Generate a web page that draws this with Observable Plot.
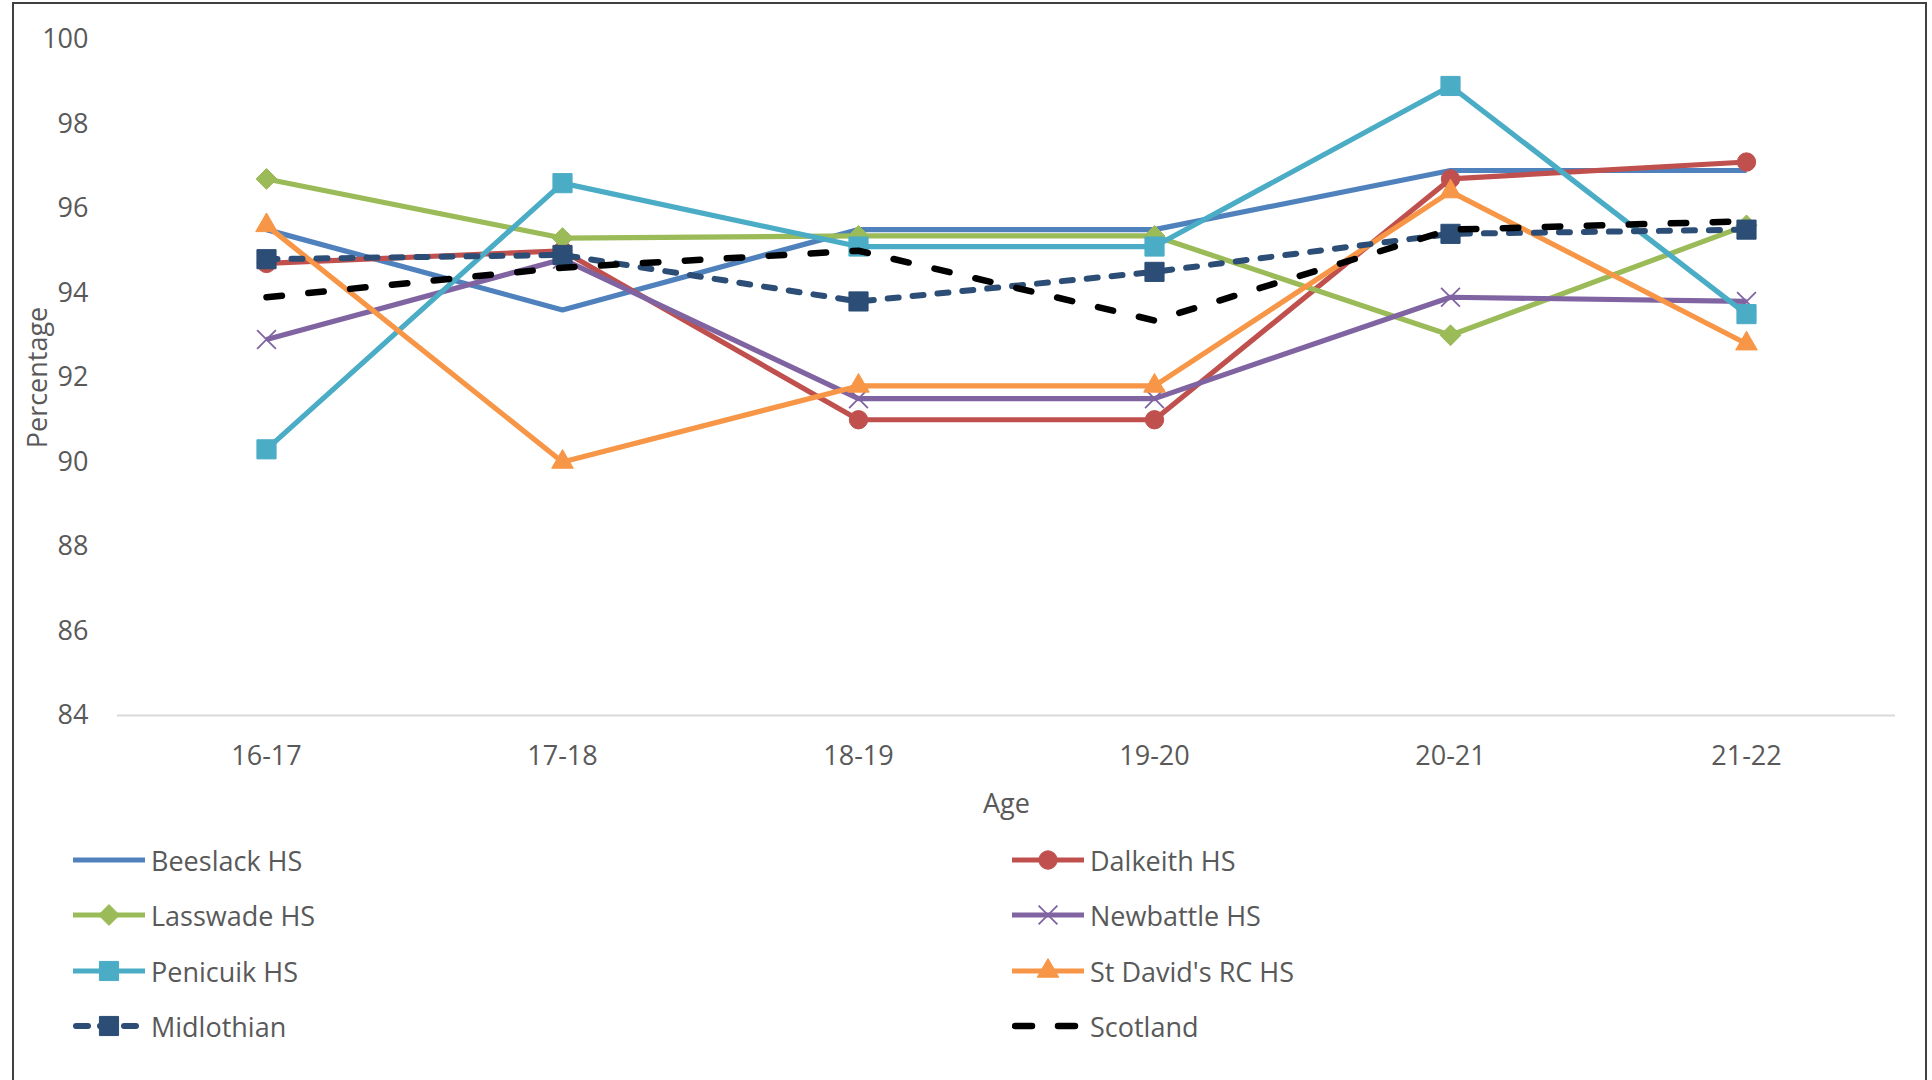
<!DOCTYPE html>
<html><head><meta charset="utf-8">
<script src="https://cdn.jsdelivr.net/npm/d3@7"></script>
<script src="https://cdn.jsdelivr.net/npm/@observablehq/plot@0.6"></script>
<style>
html,body{margin:0;padding:0;background:#fff;}
body{width:1932px;height:1080px;position:relative;overflow:hidden;font-family:"Open Sans",sans-serif;color:#595959;}
#frame{position:absolute;left:12px;top:2px;width:1915px;height:1200px;border:2px solid #404040;box-sizing:border-box;}
#chart{position:absolute;left:0;top:0;}
#legend{position:absolute;left:0;top:0;width:1932px;height:1080px;}
.item{position:absolute;display:flex;align-items:center;font-size:27px;height:40px;white-space:nowrap;}
.item svg{display:block;margin-right:6px;}
</style></head><body>
<div id="frame"></div>
<div id="chart"></div>
<div id="legend"></div>
<script>
// ---- data ----
const ages = ["16-17", "17-18", "18-19", "19-20", "20-21", "21-22"];
const beeslack  = [95.5, 93.6, 95.5, 95.5, 96.9, 96.9];
const dalkeith  = [94.7, 95.0, 91.0, 91.0, 96.7, 97.1];
const lasswade  = [96.7, 95.3, 95.35, 95.35, 93.0, 95.6];
const newbattle = [92.9, 94.8, 91.5, 91.5, 93.9, 93.8];
const penicuik  = [90.3, 96.6, 95.1, 95.1, 98.9, 93.5];
const stdavids  = [95.6, 90.0, 91.8, 91.8, 96.4, 92.8];
const midlothian = [94.8, 94.9, 93.8, 94.5, 95.4, 95.5];
const scotland  = [93.9, 94.6, 95.0, 93.35, 95.5, 95.7];
const seriesNames = ["Beeslack HS", "Dalkeith HS", "Lasswade HS", "Newbattle HS", "Penicuik HS", "St David's RC HS", "Midlothian", "Scotland"];
const seriesValues = [beeslack, dalkeith, lasswade, newbattle, penicuik, stdavids, midlothian, scotland];
const yTicks = [84, 86, 88, 90, 92, 94, 96, 98, 100];

// ---- styles ----
const seriesColors = ["#4f81bd", "#c0504d", "#9bbb59", "#8064a2", "#4bacc6", "#f79646", "#2c4d75", "#000000"];
const seriesMarkers = [null, "circle", "diamond2", "times", "square", "triangle", "square", null];
const seriesDashes = [null, null, null, null, null, null, "11,14", "15.5,26.5"];
const seriesWidths = [5.2, 5.2, 5.2, 5.2, 5.2, 5.2, 6, 6.5];
const markerR = {circle: 9.2, diamond2: 9.4, times: 8.6, square: 10.8, triangle: 8};
const d3Sym = {circle: d3.symbolCircle, diamond2: d3.symbolDiamond2, times: d3.symbolTimes, square: d3.symbolSquare, triangle: d3.symbolTriangle};

const series = seriesNames.map((name, k) => ({
  name, color: seriesColors[k], marker: seriesMarkers[k], dash: seriesDashes[k], width: seriesWidths[k],
  data: ages.map((age, i) => ({age, value: seriesValues[k][i], series: name}))
}));

const marks = [Plot.ruleY([84], {stroke: "#d9d9d9", strokeWidth: 2})];
for (const s of series) {
  marks.push(Plot.line(s.data, {
    x: "age", y: "value", stroke: s.color, strokeWidth: s.width,
    strokeDasharray: s.dash || undefined,
    strokeLinecap: s.dash ? "round" : "butt", strokeLinejoin: "round"
  }));
  if (s.marker) {
    const isStroke = s.marker === "times";
    marks.push(Plot.dot(s.data, {
      x: "age", y: "value", symbol: s.marker, r: markerR[s.marker],
      fill: isStroke ? "none" : s.color, stroke: s.color, strokeWidth: isStroke ? 1.8 : 1
    }));
  }
}
marks.push(Plot.axisX({label: "Age", labelAnchor: "center", labelArrow: "none", tickSize: 0, tickPadding: 30, labelOffset: 97}));
marks.push(Plot.axisY({ticks: yTicks, label: "Percentage", labelAnchor: "center", labelArrow: "none", tickSize: 0, tickPadding: 29, labelOffset: 90}));

const chart = Plot.plot({
  width: 1932, height: 830,
  marginLeft: 117, marginRight: 37, marginTop: 39, marginBottom: 115,
  style: {fontFamily: "'Open Sans', sans-serif", fontSize: "27px", color: "#595959", background: "transparent", overflow: "visible"},
  x: {type: "point", domain: ages, padding: 0.5},
  y: {domain: [84, 100]},
  marks
});
document.getElementById("chart").appendChild(chart);

// ---- legend (HTML) ----
const legend = document.getElementById("legend");
const colX = [73, 1012];
const rowY = [860, 915, 971, 1026];
series.forEach((s, k) => {
  const item = document.createElement("div");
  item.className = "item";
  item.style.left = colX[k % 2] + "px";
  item.style.top = (rowY[Math.floor(k / 2)] - 20) + "px";
  const svg = d3.create("svg").attr("width", 72).attr("height", 40);
  const line = svg.append("line").attr("x1", s.dash ? 3 : 0).attr("x2", s.dash ? 69 : 72).attr("y1", 20).attr("y2", 20)
    .attr("stroke", s.color).attr("stroke-width", s.width)
    .attr("stroke-linecap", s.dash ? "round" : "butt");
  if (s.dash) line.attr("stroke-dasharray", s.name === "Scotland" ? "17,26" : "12,12");
  if (s.marker) {
    const r = markerR[s.marker];
    const isStroke = s.marker === "times";
    svg.append("path").attr("transform", "translate(36,20)")
      .attr("d", d3.symbol(d3Sym[s.marker], Math.PI * r * r)())
      .attr("fill", isStroke ? "none" : s.color).attr("stroke", s.color).attr("stroke-width", isStroke ? 1.8 : 1);
  }
  item.appendChild(svg.node());
  const t = document.createElement("span");
  t.textContent = s.name;
  item.appendChild(t);
  legend.appendChild(item);
});
</script>
</body></html>
